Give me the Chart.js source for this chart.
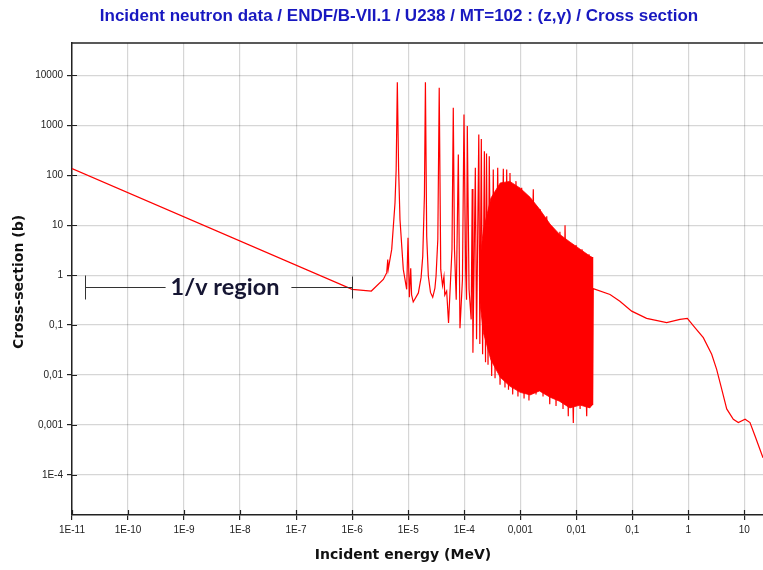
<!DOCTYPE html>
<html>
<head>
<meta charset="utf-8">
<title>U238 MT=102 capture cross section</title>
<script src="https://cdn.jsdelivr.net/npm/chart.js@4.4.1/dist/chart.umd.min.js"></script>
<style>
  html, body { margin: 0; padding: 0; background: #fff; }
  #chart { display: block; }
</style>
</head>
<body>
<canvas id="chart" width="763" height="570"></canvas>
<script>
// Energies (MeV) and cross sections (b)
const curveE = [
  1e-11, 1e-6, 2.2e-6, 3.6e-6, 4.14e-6, 4.32e-6, 4.4e-6, 5.08e-6, 5.82e-6, 6.1e-6,
  6.4e-6, 6.75e-6, 7.14e-6, 8.18e-6, 9.4e-6, 9.93e-6, 1.05e-5, 1.11e-5, 1.15e-5, 1.23e-5,
  1.52e-5, 1.7e-5, 1.82e-5, 1.95e-5, 2.03e-5, 2.14e-5, 2.29e-5, 2.5e-5, 2.74e-5, 3.0e-5,
  3.14e-5, 3.38e-5, 3.58e-5, 3.81e-5, 4.1e-5, 4.35e-5, 4.5e-5, 4.86e-5, 5.25e-5, 6.05e-5,
  6.38e-5, 6.7e-5, 7.2e-5, 7.85e-5, 8.4e-5, 9.3e-5, 9.9e-5, 1.06e-4, 1.1e-4, 1.135e-4,
  1.22e-4, 1.33e-4, 1.39e-4, 1.43e-4, 1.58e-4, 1.66e-4, 1.82e-4, 1.9e-4, 2.02e-4, 2.13e-4,
  2.29e-4, 2.4e-4, 2.5e-4, 2.66e-4, 2.8e-4, 3.09e-4, 3.3e-4, 3.55e-4, 3.96e-4, 4.36e-4,
  4.99e-4, 5.34e-4, 5.73e-4, 6.17e-4, 6.56e-4, 7.33e-4, 8.39e-4, 9.1e-4, 1.06e-3, 1.17e-3,
  1.34e-3, 1.43e-3, 1.71e-3, 1.91e-3, 2.25e-3, 2.55e-3, 2.97e-3, 3.36e-3, 3.89e-3, 4.35e-3,
  5.1e-3, 5.8e-3, 6.3e-3, 7.2e-3, 7.7e-3, 8.85e-3, 9.9e-3, 0.0117, 0.01265, 0.01535,
  0.01686, 0.0188, 0.0194, 0.0196, 0.0201, 0.04, 0.06, 0.0975, 0.18, 0.41,
  0.71, 0.96, 1.31, 1.85, 2.61, 3.2, 3.94, 4.84, 6.35, 7.8,
  10.3, 12.6, 15.5, 20.4, 21.5
];
const curveXS = [
  136, 0.52, 0.48, 0.82, 1.12, 2.06, 1.3, 3.27, 28, 130,
  7240, 130, 13, 1.3, 0.52, 5.6, 0.36, 1.37, 0.40, 0.29,
  0.44, 0.9, 2.4, 40, 7240, 6.0, 0.95, 0.45, 0.36, 0.55,
  0.95, 5.2, 5600, 1.3, 0.62, 0.94, 0.4, 0.48, 0.11, 3.3,
  2230, 3.3, 0.32, 260, 0.086, 0.82, 1630, 1.3, 0.32, 960,
  0.52, 0.13, 53, 0.028, 140, 0.052, 650, 0.042, 530, 0.026,
  300, 0.018, 270, 0.016, 240, 0.0096, 130, 0.0086, 140, 0.0064,
  135, 0.0056, 130, 0.0051, 110, 0.0041, 76, 0.0037, 56, 0.0034,
  38, 0.0031, 52, 0.0041, 21, 0.0037, 15, 0.0026, 8.3, 0.0024,
  7.4, 0.0021, 10, 0.0015, 4.2, 0.0011, 4, 0.0021, 3.3, 0.0015,
  2.6, 0.0024, 2.3, 0.0025, 0.535, 0.41, 0.30, 0.19, 0.136, 0.112,
  0.13, 0.136, 0.089, 0.056, 0.026, 0.013, 0.0052, 0.0021, 0.0013, 0.00112,
  0.0013, 0.00112, 0.0006, 0.00026, 0.00022
];

// dense resonance band (solid area between the two envelopes)
const bandE  = [1.9e-4, 2.2e-4, 3e-4, 4.4e-4, 6.5e-4, 1e-3, 1.5e-3, 2.2e-3, 3.4e-3, 5e-3, 7.7e-3, 0.0117, 0.0175, 0.0195];
const bandHi = [2, 8, 35, 70, 75, 55, 36, 21, 10.5, 6.6, 4.6, 3.3, 2.4, 2.25];
const bandLo = [0.3, 0.07, 0.02, 0.009, 0.006, 0.0045, 0.004, 0.0048, 0.0036, 0.003, 0.0022, 0.0025, 0.0022, 0.0026];

const xTickVals = [1e-11, 1e-10, 1e-9, 1e-8, 1e-7, 1e-6, 1e-5, 1e-4, 1e-3, 1e-2, 1e-1, 1, 10];
const xTickLabels = ['1E-11', '1E-10', '1E-9', '1E-8', '1E-7', '1E-6', '1E-5', '1E-4', '0,001', '0,01', '0,1', '1', '10'];
const yTickVals = [1e-4, 1e-3, 1e-2, 1e-1, 1, 10, 100, 1000, 10000];
const yTickLabels = ['1E-4', '0,001', '0,01', '0,1', '1', '10', '100', '1000', '10000'];

// 1/v annotation bracket
const oneOverVStart = 1.7e-11;
const oneOverVEnd = 1e-6;
const oneOverVLevel = 0.57;

const RED = 'rgb(255,0,0)';
const pts = (xs, ys) => xs.map((e, i) => ({ x: e, y: ys[i] }));

const decor = {
  id: 'decor',
  afterDraw(chart) {
    const { ctx, chartArea: a, scales: { x, y } } = chart;
    ctx.save();
    ctx.strokeStyle = '#222';
    // top frame line
    ctx.lineWidth = 1.5;
    ctx.beginPath();
    ctx.moveTo(a.left, a.top);
    ctx.lineTo(a.right, a.top);
    ctx.stroke();
    // inner half of tick marks
    ctx.lineWidth = 1.2;
    ctx.beginPath();
    xTickVals.forEach(v => {
      const px = Math.round(x.getPixelForValue(v)) + 0.5;
      ctx.moveTo(px, a.bottom);
      ctx.lineTo(px, a.bottom - 5);
    });
    yTickVals.forEach(v => {
      const py = Math.round(y.getPixelForValue(v)) + 0.5;
      ctx.moveTo(a.left, py);
      ctx.lineTo(a.left + 5, py);
    });
    ctx.stroke();

    // title
    ctx.fillStyle = '#1818c0';
    ctx.font = 'bold 17px "Liberation Sans", Arial, sans-serif';
    ctx.textAlign = 'center';
    ctx.textBaseline = 'middle';
    ctx.fillText('Incident neutron data / ENDF/B-VII.1 / U238 / MT=102 : (z,\u03b3) / Cross section', 399, 16);

    // axis titles
    ctx.fillStyle = '#111';
    ctx.font = 'bold 14px "DejaVu Sans", sans-serif';
    ctx.fillText('Incident energy (MeV)', 403, 555);
    ctx.save();
    ctx.translate(19, 282);
    ctx.rotate(-Math.PI / 2);
    ctx.fillText('Cross-section (b)', 0, 0);
    ctx.restore();

    // 1/v region annotation
    const x0 = Math.round(x.getPixelForValue(oneOverVStart)) + 0.5;
    const x1 = Math.round(x.getPixelForValue(oneOverVEnd)) + 0.5;
    const yl = Math.round(y.getPixelForValue(oneOverVLevel)) + 0.5;
    ctx.font = 'bold 23.5px Lato, "Open Sans", sans-serif';
    const label = '1/v region';
    const w = ctx.measureText(label).width;
    const tx = (x0 + x1) / 2 + 6 - w / 2;
    ctx.strokeStyle = '#333';
    ctx.lineWidth = 1;
    ctx.beginPath();
    ctx.moveTo(x0, yl - 12); ctx.lineTo(x0, yl + 12);
    ctx.moveTo(x0, yl); ctx.lineTo(tx - 5, yl);
    ctx.moveTo(tx + w + 12, yl); ctx.lineTo(x1, yl);
    ctx.moveTo(x1, yl - 11); ctx.lineTo(x1, yl + 11);
    ctx.stroke();
    ctx.fillStyle = '#161633';
    ctx.textAlign = 'left';
    ctx.fillText(label, tx, yl);
    ctx.restore();
  }
};

const gridOpts = {
  color: 'rgba(0,0,0,0.16)',
  lineWidth: 1.2,
  tickColor: '#222',
  tickLength: 5,
  tickWidth: 1.2
};
const tickFont = { family: '"Liberation Sans", Arial, sans-serif', size: 10 };

new Chart(document.getElementById('chart'), {
  type: 'line',
  data: {
    datasets: [
      {
        data: pts(curveE, curveXS),
        borderColor: RED,
        borderWidth: 1.2,
        pointRadius: 0,
        tension: 0,
        fill: false
      },
      {
        data: pts(bandE, bandHi),
        borderColor: RED,
        borderWidth: 0.8,
        backgroundColor: RED,
        pointRadius: 0,
        fill: '+1'
      },
      {
        data: pts(bandE, bandLo),
        borderColor: RED,
        borderWidth: 0.8,
        pointRadius: 0,
        fill: false
      }
    ]
  },
  options: {
    responsive: false,
    animation: false,
    events: [],
    layout: { padding: { top: 43, left: 0, right: 0, bottom: 0 } },
    plugins: {
      legend: { display: false },
      title: { display: false },
      tooltip: { enabled: false }
    },
    scales: {
      x: {
        type: 'logarithmic',
        min: 1e-11,
        max: 21.5,
        afterBuildTicks: s => { s.ticks = xTickVals.map(v => ({ value: v })); },
        afterFit: s => { s.height = 55; },
        ticks: {
          callback: (v, i) => xTickLabels[i],
          font: tickFont,
          color: '#222',
          maxRotation: 0,
          autoSkip: false,
          padding: 4
        },
        grid: gridOpts,
        border: { color: '#222', width: 1.5 }
      },
      y: {
        type: 'logarithmic',
        min: 1.58e-5,
        max: 44200,
        afterBuildTicks: s => { s.ticks = yTickVals.map(v => ({ value: v })); },
        afterFit: s => { s.width = 72; },
        ticks: {
          callback: (v, i) => yTickLabels[i],
          font: tickFont,
          color: '#222',
          autoSkip: false,
          padding: 4
        },
        grid: gridOpts,
        border: { color: '#222', width: 1.5 }
      }
    }
  },
  plugins: [decor]
});
</script>
</body>
</html>
